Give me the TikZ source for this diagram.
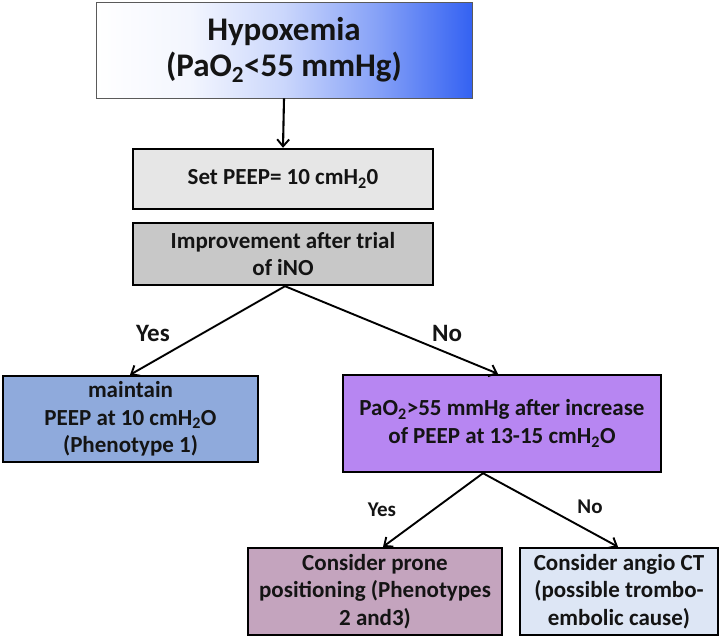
\documentclass[tikz,border=0pt]{standalone}
\usepackage{fontspec}
\setmainfont{Carlito}
\usetikzlibrary{arrows.meta,positioning}
\definecolor{hypblue}{RGB}{52,98,242}
\definecolor{peepgray}{RGB}{230,230,230}
\definecolor{impgray}{RGB}{200,200,200}
\definecolor{maintblue}{RGB}{143,170,220}
\definecolor{paopurple}{RGB}{183,134,242}
\definecolor{pronemauve}{RGB}{196,164,190}
\definecolor{angioblue}{RGB}{221,230,245}
\definecolor{txt}{RGB}{20,20,20}
\pgfdeclarehorizontalshading{hypshade}{100bp}{color(0bp)=(white); color(25bp)=(white); color(37.5bp)=(white!94!hypblue); color(50bp)=(white!74!hypblue); color(62.5bp)=(white!40!hypblue); color(75bp)=(hypblue); color(100bp)=(hypblue)}
\tikzset{
  boxstyle/.style={draw=black, line width=2.4pt, align=center, inner sep=2pt, text=txt, font=\bfseries\fontsize{23}{27.5}\selectfont},
  conn/.style={draw=black, line width=1.9pt, -{Straight Barb[length=7pt,width=12pt,line width=1.9pt]}},
  lbl/.style={text=txt, font=\bfseries\fontsize{25}{28}\selectfont},
  lblsmall/.style={text=txt, font=\bfseries\fontsize{21}{24}\selectfont}
}
\begin{document}
\begin{tikzpicture}[x=1pt,y=-1pt]
\useasboundingbox (0,0) rectangle (725,637);
\node[draw={rgb,255:red,90;green,90;blue,90}, line width=0.9pt, shading=hypshade, minimum width=376pt, minimum height=96pt, align=center, inner sep=0pt, text=txt, font=\bfseries\fontsize{33}{36}\selectfont] (hyp) at (284,50) {Hypoxemia\\(PaO\textsubscript{2}<55 mmHg)};
\node[boxstyle, fill=peepgray, minimum width=300pt, minimum height=60pt] (peep) at (283,179) {Set PEEP= 10 cmH\textsubscript{2}0};
\node[boxstyle, fill=impgray, minimum width=300pt, minimum height=62pt] (imp) at (283,254) {Improvement after trial\\of iNO};
\node[boxstyle, fill=maintblue, minimum width=255pt, minimum height=86pt] (maint) at (130.5,419) {maintain\\PEEP at 10 cmH\textsubscript{2}O\\(Phenotype 1)};
\node[boxstyle, fill=paopurple, minimum width=318pt, minimum height=97pt] (pao) at (502,423.5) {PaO\textsubscript{2}>55 mmHg after increase\\of PEEP at 13-15 cmH\textsubscript{2}O};
\node[boxstyle, fill=pronemauve, minimum width=254pt, minimum height=87pt] (prone) at (375,591.5) {Consider prone\\positioning (Phenotypes\\2 and3)};
\node[boxstyle, fill=angioblue, minimum width=198pt, minimum height=87pt] (angio) at (619,591.5) {Consider angio CT\\(possible trombo-\\embolic cause)};
\coordinate (impb) at ([xshift=2pt]imp.south);
\coordinate (paob) at ([xshift=-19pt]pao.south);
\draw[conn, line width=2.1pt] (hyp.south) -- (peep.north);
\draw[conn] (impb) -- ([xshift=-0.5pt]maint.north);
\draw[conn] (impb) -- ([xshift=-4pt]pao.north);
\draw[conn] (paob) -- ([xshift=8pt]prone.north);
\draw[conn] (paob) -- ([xshift=-1pt]angio.north);
\node[lbl] (yes1) at (153,333) {Yes};
\node[lbl] (no1) at (447,333) {No};
\node[lblsmall] (yes2) at (382,510) {Yes};
\node[lblsmall] (no2) at (590,507) {No};
\end{tikzpicture}
\end{document}
